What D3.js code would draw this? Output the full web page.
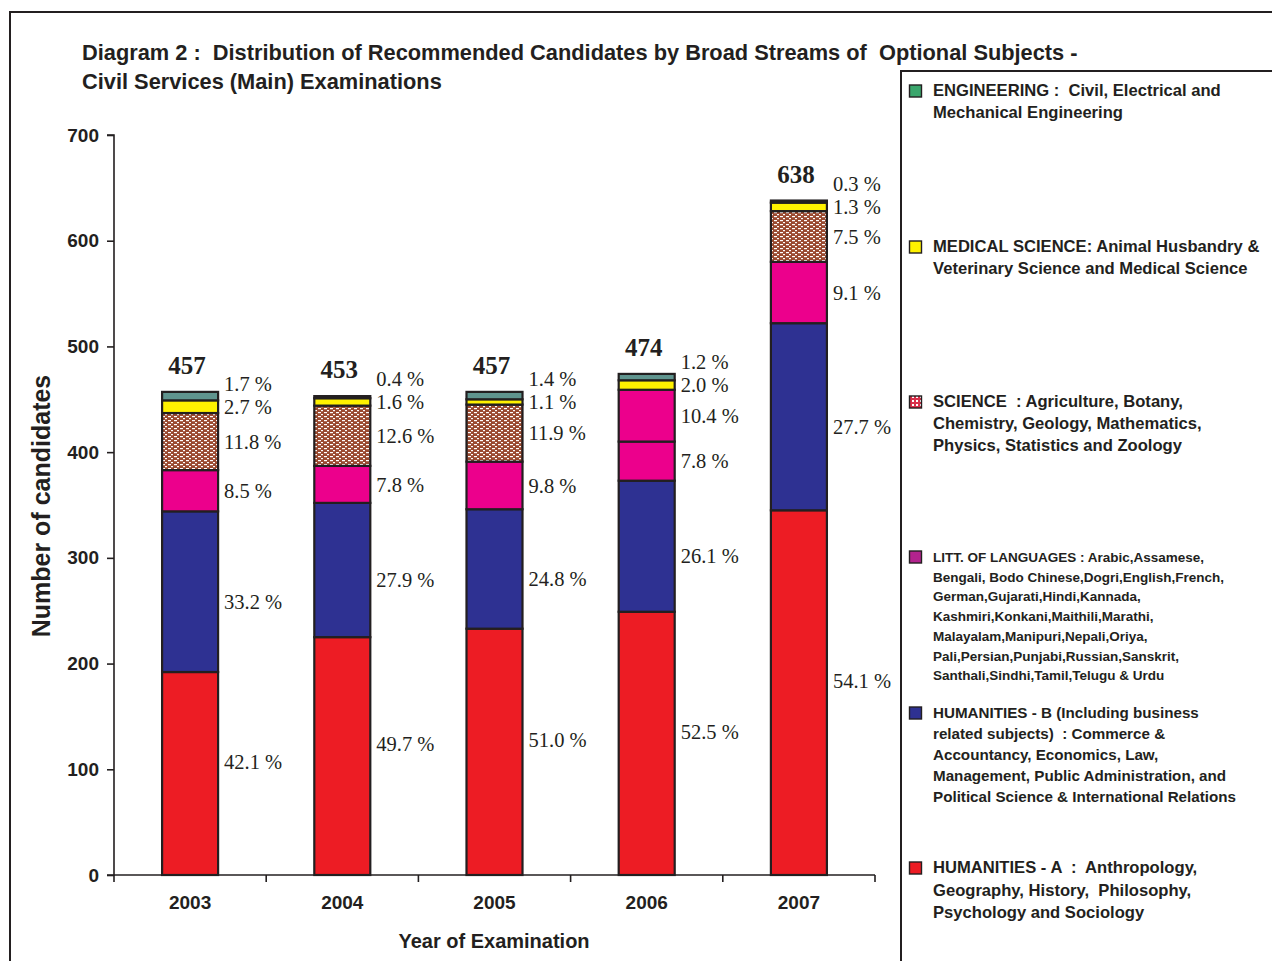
<!DOCTYPE html>
<html>
<head>
<meta charset="utf-8">
<script src="https://cdn.jsdelivr.net/npm/d3@7"></script>
<style>
  html, body { margin: 0; padding: 0; background: #fff; }
  svg { display: block; }
</style>
</head>
<body>
<svg id="chart" width="1272" height="961"></svg>
<script>
// ---------- DATA ----------
const years = ["2003", "2004", "2005", "2006", "2007"];
const totals = [457, 453, 457, 474, 638];
// counts per stream (bottom to top)
const humanitiesA = [192, 225, 233, 249, 345];
const humanitiesB = [152, 127, 113, 124, 177];
const literature  = [39, 35, 45, 37, 58];
const science     = [54, 57, 54, 49, 48];
const medical     = [12, 7, 5, 9, 8];
const engineering = [8, 2, 7, 6, 2];
// percentage labels printed beside the bars
const pctHumanitiesA = [42.1, 49.7, 51.0, 52.5, 54.1];
const pctHumanitiesB = [33.2, 27.9, 24.8, 26.1, 27.7];
const pctLiterature  = [8.5, 7.8, 9.8, 7.8, 9.1];
const pctScience     = [11.8, 12.6, 11.9, 10.4, 7.5];
const pctMedical     = [2.7, 1.6, 1.1, 2.0, 1.3];
const pctEngineering = [1.7, 0.4, 1.4, 1.2, 0.3];
// year whose science block is printed in the literature colour in the original
const scienceDrawnAsLiterature = ["2006"];
const yTicks = [0, 100, 200, 300, 400, 500, 600, 700];

const legendItems = [
  { key: "eng", lines: ["ENGINEERING :  Civil, Electrical and", "Mechanical Engineering"] },
  { key: "med", lines: ["MEDICAL SCIENCE: Animal Husbandry &", "Veterinary Science and Medical Science"] },
  { key: "sci", lines: ["SCIENCE  : Agriculture, Botany,", "Chemistry, Geology, Mathematics,", "Physics, Statistics and Zoology"] },
  { key: "lit", lines: ["LITT. OF LANGUAGES : Arabic,Assamese,", "Bengali, Bodo Chinese,Dogri,English,French,", "German,Gujarati,Hindi,Kannada,", "Kashmiri,Konkani,Maithili,Marathi,", "Malayalam,Manipuri,Nepali,Oriya,", "Pali,Persian,Punjabi,Russian,Sanskrit,", "Santhali,Sindhi,Tamil,Telugu & Urdu"] },
  { key: "humB", lines: ["HUMANITIES - B (Including business", "related subjects)  : Commerce &", "Accountancy, Economics, Law,", "Management, Public Administration, and", "Political Science & International Relations"] },
  { key: "humA", lines: ["HUMANITIES - A  :  Anthropology,", "Geography, History,  Philosophy,", "Psychology and Sociology"] }
];

// ---------- STYLE ----------
const seriesKeys = ["humA", "humB", "lit", "sci", "med", "eng"];
const seriesValues = { humA: humanitiesA, humB: humanitiesB, lit: literature, sci: science, med: medical, eng: engineering };
const seriesPct = { humA: pctHumanitiesA, humB: pctHumanitiesB, lit: pctLiterature, sci: pctScience, med: pctMedical, eng: pctEngineering };
const barFill = { humA: "#ed1c24", humB: "#2e3192", lit: "#ec008c", sci: "url(#sciPattern)", med: "#fff200", eng: "#5f948e" };
const legendFill = { humA: "#ed1c24", humB: "#2e3192", lit: "#b3238e", sci: "url(#sciLegendPattern)", med: "#fff200", eng: "#3aa66c" };
const legendTop = { eng: 96, med: 252, sci: 407, lit: 562, humB: 718, humA: 873 };
const legendLH = { eng: 22, med: 22, sci: 22, lit: 19.7, humB: 21, humA: 22.5 };
const legendFS = { eng: 16.6, med: 16.6, sci: 16.6, lit: 13.5, humB: 15.2, humA: 16.6 };

const svg = d3.select("#chart");
const sans = "'Liberation Sans', Arial, sans-serif";
const serif = "'Liberation Serif', 'Times New Roman', serif";
const ink = "#231f20";

// patterns
const defs = svg.append("defs");
const p = defs.append("pattern").attr("id", "sciPattern").attr("patternUnits", "userSpaceOnUse")
  .attr("width", 6).attr("height", 4);
p.append("rect").attr("width", 6).attr("height", 4).attr("fill", "#9a4a30");
p.append("rect").attr("x", 0).attr("y", 0).attr("width", 3).attr("height", 1.2).attr("fill", "#fff");
p.append("rect").attr("x", 3).attr("y", 2).attr("width", 2).attr("height", 1.2).attr("fill", "#fff");
const pl = defs.append("pattern").attr("id", "sciLegendPattern").attr("patternUnits", "userSpaceOnUse")
  .attr("width", 4).attr("height", 4);
pl.append("rect").attr("width", 4).attr("height", 4).attr("fill", "#d9304a");
pl.append("rect").attr("x", 0).attr("y", 0).attr("width", 2).attr("height", 2).attr("fill", "#fff");

// frame
svg.append("path").attr("d", "M10,961 V12 H1272").attr("fill", "none").attr("stroke", ink).attr("stroke-width", 2);
svg.append("path").attr("d", "M901,961 V71 H1272").attr("fill", "none").attr("stroke", ink).attr("stroke-width", 2);

// title
svg.append("text").attr("x", 82).attr("y", 60).attr("font-family", sans).attr("font-weight", "bold")
  .attr("font-size", 21.8).attr("fill", ink).attr("xml:space", "preserve")
  .text("Diagram 2 :  Distribution of Recommended Candidates by Broad Streams of  Optional Subjects -");
svg.append("text").attr("x", 82).attr("y", 89).attr("font-family", sans).attr("font-weight", "bold")
  .attr("font-size", 21.8).attr("fill", ink).text("Civil Services (Main) Examinations");

// scales
const x = d3.scaleBand().domain(years).range([114, 875]).paddingInner(0.632).paddingOuter(0.316);
const y = d3.scaleLinear().domain([0, 700]).range([875, 135]);

// y axis
const yAxis = svg.append("g").attr("transform", "translate(114,0)")
  .call(d3.axisLeft(y).tickValues(yTicks).tickSize(7).tickPadding(8));
yAxis.select(".domain").attr("stroke", ink).attr("stroke-width", 1.6).attr("d", "M-7,135H0V875H-7");
yAxis.selectAll(".tick line").attr("stroke", ink).attr("stroke-width", 1.6);
yAxis.selectAll(".tick text").attr("font-family", sans).attr("font-weight", "bold").attr("font-size", 19).attr("fill", ink);

// x axis
const xAxis = svg.append("g").attr("transform", "translate(0,875)")
  .call(d3.axisBottom(x).tickSize(0).tickPadding(21));
xAxis.select(".domain").attr("stroke", ink).attr("stroke-width", 1.6).attr("d", "M114,0H875");
xAxis.selectAll(".tick text").attr("font-family", sans).attr("font-weight", "bold").attr("font-size", 19).attr("fill", ink);
const boundaries = years.map((d) => x(d) - x.step() * x.paddingOuter()).concat([875]);
xAxis.selectAll(".bound").data(boundaries).join("line").attr("class", "bound")
  .attr("x1", (d) => d).attr("x2", (d) => d).attr("y1", 0).attr("y2", 7)
  .attr("stroke", ink).attr("stroke-width", 1.6);

// axis titles
svg.append("text").attr("x", 494).attr("y", 948).attr("text-anchor", "middle").attr("font-family", sans)
  .attr("font-weight", "bold").attr("font-size", 20).attr("fill", ink).text("Year of Examination");
svg.append("text").attr("transform", "translate(50,506) rotate(-90)").attr("text-anchor", "middle")
  .attr("font-family", sans).attr("font-weight", "bold").attr("font-size", 25).attr("fill", ink)
  .text("Number of candidates");

// stacked data
const rows = years.map((yr, i) => {
  const r = { year: yr };
  seriesKeys.forEach((k) => (r[k] = seriesValues[k][i]));
  return r;
});
const stacked = d3.stack().keys(seriesKeys)(rows);

const barsG = svg.append("g");
stacked.forEach((layer) => {
  barsG.selectAll(null).data(layer).join("rect")
    .attr("x", (d) => x(d.data.year))
    .attr("width", x.bandwidth())
    .attr("y", (d) => y(d[1]))
    .attr("height", (d) => y(d[0]) - y(d[1]))
    .attr("fill", (d) => (layer.key === "sci" && scienceDrawnAsLiterature.includes(d.data.year)) ? barFill.lit : barFill[layer.key])
    .attr("stroke", ink).attr("stroke-width", 2.2);
});

// percentage labels (bottom-up, pushed up to avoid overlap)
years.forEach((yr, i) => {
  let prev = Infinity;
  const lx = x(yr) + x.bandwidth() + 6;
  seriesKeys.forEach((k) => {
    const layer = stacked.find((s) => s.key === k);
    const d = layer[i];
    let cy = (y(d[0]) + y(d[1])) / 2;
    if (k === "humA") cy -= 12;
    if (k === "humB") cy += 10;
    cy = Math.min(cy, prev - 23);
    prev = cy;
    svg.append("text").attr("x", lx).attr("y", cy).attr("dy", "0.35em")
      .attr("font-family", serif).attr("font-size", 20.5).attr("fill", ink)
      .text(seriesPct[k][i].toFixed(1) + " %");
  });
});

// totals
svg.selectAll(".total").data(years).join("text").attr("class", "total")
  .attr("x", (d) => x(d) + x.bandwidth() / 2 - 3)
  .attr("y", (d, i) => y(totals[i]) - 18)
  .attr("text-anchor", "middle").attr("font-family", serif).attr("font-weight", "bold")
  .attr("font-size", 25).attr("fill", ink).text((d, i) => totals[i]);

// legend
const lg = svg.append("g");
legendItems.forEach((item) => {
  const top = legendTop[item.key];
  lg.append("rect").attr("x", 909.5).attr("y", top - 11).attr("width", 12).attr("height", 12)
    .attr("fill", legendFill[item.key]).attr("stroke", ink).attr("stroke-width", 1.4);
  item.lines.forEach((ln, j) => {
    lg.append("text").attr("x", 933).attr("y", top + j * legendLH[item.key]).attr("xml:space", "preserve")
      .attr("font-family", sans).attr("font-weight", "bold").attr("font-size", legendFS[item.key])
      .attr("fill", ink).text(ln);
  });
});
</script>
</body>
</html>
